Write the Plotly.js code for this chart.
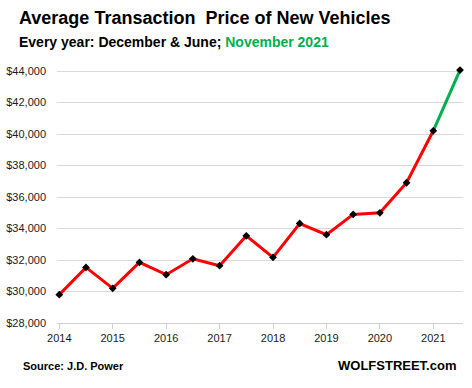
<!DOCTYPE html>
<html>
<head>
<meta charset="utf-8">
<script src="https://cdn.plot.ly/plotly-3.0.1.min.js"></script>
<style>html,body{margin:0;padding:0;background:#fff;}#chart{width:472px;height:388px;}</style>
</head>
<body>
<div id="chart"></div>
<script>
// Half-year periods (December & June), last point November 2021
const periods = [2014, 2014.5, 2015, 2015.5, 2016, 2016.5, 2017, 2017.5,
                 2018, 2018.5, 2019, 2019.5, 2020, 2020.5, 2021, 2021.5];
const prices = [29800, 31530, 30200, 31850, 31070, 32080, 31640, 33540,
                32170, 34320, 33610, 34900, 35000, 36910, 40210, 44070];
const yearTicks = [2014, 2015, 2016, 2017, 2018, 2019, 2020, 2021];
const yearLabels = ['2014', '2015', '2016', '2017', '2018', '2019', '2020', '2021'];

const nRed = periods.length - 1; // red through June 2021, green to November 2021
const redTrace = {
  x: periods.slice(0, nRed), y: prices.slice(0, nRed),
  type: 'scatter', mode: 'lines', cliponaxis: false,
  line: {color: '#ff0000', width: 3}, hoverinfo: 'skip'
};
const greenTrace = {
  x: periods.slice(nRed - 1), y: prices.slice(nRed - 1),
  type: 'scatter', mode: 'lines', cliponaxis: false,
  line: {color: '#00b050', width: 3}, hoverinfo: 'skip'
};
const markerTrace = {
  x: periods, y: prices, type: 'scatter', mode: 'markers', cliponaxis: false,
  marker: {symbol: 'diamond', size: 6, color: '#000000'}
};

const font = {family: 'Liberation Sans, Arial, sans-serif', color: '#1a1a1a', size: 11};

const layout = {
  width: 472, height: 388,
  margin: {l: 57, r: 9, t: 68, b: 65},
  paper_bgcolor: '#ffffff', plot_bgcolor: '#ffffff',
  showlegend: false,
  font: font,
  xaxis: {
    range: [2013.957, 2021.556],
    tickvals: yearTicks, ticktext: yearLabels,
    showgrid: false, zeroline: false,
    showline: true, linecolor: '#d0d0d0', linewidth: 1,
    ticks: 'outside', ticklen: 5, tickcolor: '#d0d0d0',
    tickfont: {family: font.family, size: 11, color: '#1a1a1a'}
  },
  yaxis: {
    range: [28000, 44200],
    tickvals: [28000, 30000, 32000, 34000, 36000, 38000, 40000, 42000, 44000],
    tickformat: '$,.0f',
    showgrid: true, gridcolor: '#d9d9d9', gridwidth: 1,
    zeroline: false, showline: false, ticks: '',
    ticklabelstandoff: 10,
    tickfont: {family: font.family, size: 11, color: '#1a1a1a'}
  },
  annotations: [
    {text: '<b>Average Transaction&nbsp; Price of New Vehicles</b>', xref: 'paper', yref: 'paper',
     x: -0.0985, y: 1.196, xanchor: 'left', yanchor: 'middle', showarrow: false,
     font: {family: font.family, size: 18, color: '#000000'}},
    {text: '<b>Every year: December &amp; June; <span style="color:#00b050">November 2021</span></b>',
     xref: 'paper', yref: 'paper',
     x: -0.0985, y: 1.102, xanchor: 'left', yanchor: 'middle', showarrow: false,
     font: {family: font.family, size: 14, color: '#000000'}},
    {text: '<b>Source: J.D. Power</b>', xref: 'paper', yref: 'paper',
     x: -0.088, y: -0.170, xanchor: 'left', yanchor: 'middle', showarrow: false,
     font: {family: font.family, size: 11, color: '#000000'}},
    {text: '<b>WOLFSTREET.com</b>', xref: 'paper', yref: 'paper',
     x: 0.988, y: -0.168, xanchor: 'right', yanchor: 'middle', showarrow: false,
     font: {family: font.family, size: 13, color: '#000000'}}
  ]
};

Plotly.newPlot('chart', [redTrace, greenTrace, markerTrace], layout, {displayModeBar: false, staticPlot: true});
</script>
</body>
</html>
